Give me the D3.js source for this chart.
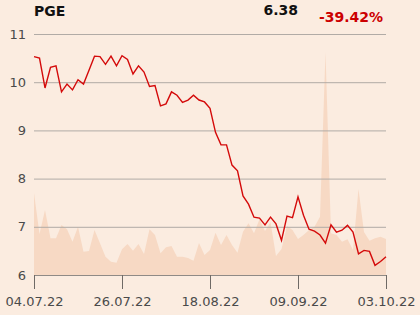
<!DOCTYPE html>
<html>
<head>
<meta charset="utf-8">
<script src="https://cdn.jsdelivr.net/npm/d3@7"></script>
<style>
  html, body { margin: 0; padding: 0; background: #fbece0; }
  svg { display: block; }
</style>
</head>
<body>
<svg id="chart" width="420" height="315"></svg>
<script>
const ticker = "PGE";
const lastPrice = "6.38";
const changeText = "-39.42%";

const dates = [
  "04.07.22","05.07.22","06.07.22","07.07.22","08.07.22","11.07.22","12.07.22","13.07.22","14.07.22","15.07.22",
  "18.07.22","19.07.22","20.07.22","21.07.22","22.07.22","25.07.22","26.07.22","27.07.22","28.07.22","29.07.22",
  "01.08.22","02.08.22","03.08.22","04.08.22","05.08.22","08.08.22","09.08.22","10.08.22","11.08.22","12.08.22",
  "16.08.22","17.08.22","18.08.22","19.08.22","22.08.22","23.08.22","24.08.22","25.08.22","26.08.22","29.08.22",
  "30.08.22","31.08.22","01.09.22","02.09.22","05.09.22","06.09.22","07.09.22","08.09.22","09.09.22","12.09.22",
  "13.09.22","14.09.22","15.09.22","16.09.22","19.09.22","20.09.22","21.09.22","22.09.22","23.09.22","26.09.22",
  "27.09.22","28.09.22","29.09.22","30.09.22","03.10.22"
];

const prices = [
  10.53, 10.50, 9.88, 10.31, 10.34, 9.80, 9.96, 9.84, 10.05, 9.96,
  10.25, 10.54, 10.53, 10.37, 10.54, 10.34, 10.55, 10.47, 10.17, 10.34,
  10.21, 9.91, 9.93, 9.51, 9.55, 9.80, 9.73, 9.58, 9.63, 9.73,
  9.63, 9.59, 9.46, 8.96, 8.70, 8.70, 8.28, 8.16, 7.64, 7.47,
  7.20, 7.18, 7.04, 7.20, 7.06, 6.72, 7.22, 7.19, 7.62, 7.24,
  6.95, 6.91, 6.83, 6.66, 7.04, 6.89, 6.93, 7.03, 6.89, 6.44,
  6.51, 6.49, 6.20, 6.28, 6.38
];

// trading volume (thousand shares, estimated)
const volumes = [
  820, 410, 650, 367, 367, 500, 457, 333, 483, 233,
  240, 450, 317, 183, 133, 123, 257, 310, 243, 310,
  210, 457, 400, 217, 277, 290, 183, 183, 170, 143,
  320, 200, 250, 423, 300, 400, 300, 223, 433, 517,
  417, 557, 440, 530, 190, 260, 490, 450, 360, 400,
  450, 483, 583, 2230, 417, 400, 333, 357, 250, 860,
  430, 343, 367, 383, 360
];

const yTicks = [6, 7, 8, 9, 10, 11];
const xTickLabels = ["04.07.22", "26.07.22", "18.08.22", "09.09.22", "03.10.22"];

const svg = d3.select("#chart");
const plotLeft = 34, plotRight = 386, plotTop = 34, plotBottom = 275;

const x = d3.scalePoint().domain(dates).range([plotLeft, plotRight]);
const y = d3.scaleLinear().domain([6, 11]).range([plotBottom, plotTop]);
const yVol = d3.scaleLinear().domain([0, d3.max(volumes)]).range([plotBottom, 52]);

// volume area
const area = d3.area()
  .x((d, i) => x(dates[i]))
  .y0(plotBottom)
  .y1(d => yVol(d));
svg.append("path")
  .datum(volumes)
  .attr("d", area)
  .attr("fill", "#f7d9c4");

// grid lines
const gridAxis = d3.axisLeft(y).tickValues(yTicks).tickSize(-(plotRight - plotLeft)).tickFormat(d3.format("d")).tickPadding(8);
const gy = svg.append("g").attr("transform", `translate(${plotLeft},0)`).call(gridAxis);
gy.select(".domain").remove();
gy.selectAll(".tick line").attr("stroke", "#b1aba6").attr("stroke-width", 1);
gy.selectAll(".tick text")
  .attr("fill", "#4a4a4a")
  .style("font-family", "DejaVu Sans, sans-serif")
  .style("font-size", "13px")
  .attr("x", -8)
  .attr("text-anchor", "end");

// price line
const line = d3.line()
  .x((d, i) => x(dates[i]))
  .y(d => y(d));
svg.append("path")
  .datum(prices)
  .attr("d", line)
  .attr("fill", "none")
  .attr("stroke", "#d40a0a")
  .attr("stroke-width", 1.4)
  .attr("stroke-linejoin", "miter");

// x axis
const xAxis = d3.axisBottom(x).tickValues(xTickLabels).tickSize(14).tickPadding(8).tickSizeOuter(0);
const gx = svg.append("g").attr("transform", `translate(0,${plotBottom})`).call(xAxis);
gx.select(".domain").attr("stroke", "#8f8a86");
gx.selectAll(".tick line").attr("stroke", "#6f6a66");
gx.selectAll(".tick text")
  .attr("fill", "#4a4a4a")
  .style("font-family", "DejaVu Sans, sans-serif")
  .style("font-size", "13px");

// header
svg.append("text")
  .attr("x", 34).attr("y", 16)
  .text(ticker)
  .style("font-family", "DejaVu Sans, sans-serif")
  .style("font-size", "14px")
  .style("font-weight", "bold")
  .attr("fill", "#111");
svg.append("text")
  .attr("x", 298).attr("y", 15)
  .attr("text-anchor", "end")
  .text(lastPrice)
  .style("font-family", "DejaVu Sans, sans-serif")
  .style("font-size", "14px")
  .style("font-weight", "bold")
  .attr("fill", "#111");
svg.append("text")
  .attr("x", 383).attr("y", 22)
  .attr("text-anchor", "end")
  .text(changeText)
  .style("font-family", "DejaVu Sans, sans-serif")
  .style("font-size", "14px")
  .style("font-weight", "bold")
  .attr("fill", "#cc0000");
</script>
</body>
</html>
